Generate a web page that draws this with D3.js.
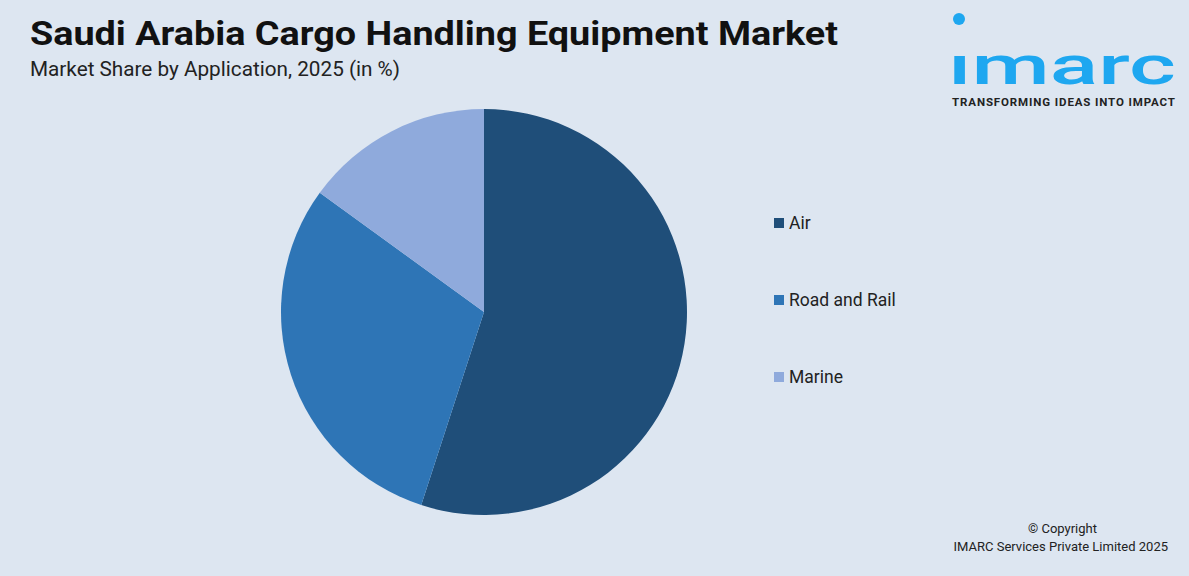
<!DOCTYPE html>
<html><head><meta charset="utf-8">
<script src="https://cdn.jsdelivr.net/npm/d3@7"></script>
<style>body{margin:0;background:#dde6f1;font-family:Roboto,"Open Sans",sans-serif}</style>
</head><body><svg id="chart" width="1189" height="576"></svg>
<script>
// data
var categories = ["Air", "Road and Rail", "Marine"];
var shares = [55, 30, 15];
var colors = ["#1f4e79", "#2e75b6", "#8faadc"];

var svg = d3.select("#chart");
svg.append("rect").attr("width", 1189).attr("height", 576).attr("fill", "#dde6f1");

svg.append("text").attr("x", 30).attr("y", 45).attr("font-size", 33).attr("font-weight", 700)
  .attr("fill", "#111").attr("textLength", 808).attr("lengthAdjust", "spacingAndGlyphs")
  .text("Saudi Arabia Cargo Handling Equipment Market");
svg.append("text").attr("x", 30).attr("y", 76).attr("font-size", 19.5).attr("fill", "#222")
  .attr("textLength", 370).attr("lengthAdjust", "spacingAndGlyphs")
  .text("Market Share by Application, 2025 (in %)");

// logo
svg.append("circle").attr("cx", 959).attr("cy", 19).attr("r", 6).attr("fill", "#1ea7f0");
svg.append("text").attr("x", 948).attr("y", 84).attr("font-size", 54).attr("font-weight", 500)
  .attr("fill", "#1ea7f0").attr("textLength", 228).attr("lengthAdjust", "spacingAndGlyphs").text("ımarc");
svg.append("text").attr("x", 952).attr("y", 106).attr("font-size", 11.5).attr("font-weight", 700)
  .attr("fill", "#222").attr("textLength", 223).text("TRANSFORMING IDEAS INTO IMPACT");

var pie = d3.pie().sort(null).value(d => d)(shares);
var arc = d3.arc().innerRadius(0).outerRadius(203);
svg.append("g").attr("transform", "translate(484,312)")
  .selectAll("path").data(pie).join("path")
  .attr("d", arc).attr("fill", (d, i) => colors[i]);

var leg = svg.append("g").selectAll("g").data(categories).join("g")
  .attr("transform", (d, i) => "translate(774," + (223 + i * 77) + ")");
leg.append("rect").attr("x", 0).attr("y", -5).attr("width", 10).attr("height", 10).attr("fill", (d, i) => colors[i]);
leg.append("text").attr("x", 15).attr("y", 6).attr("font-size", 17.5).attr("fill", "#222").text(d => d);

svg.append("text").attr("x", 1097).attr("y", 533).attr("text-anchor", "end").attr("font-size", 13)
  .attr("fill", "#222").text("© Copyright");
svg.append("text").attr("x", 1168).attr("y", 551).attr("text-anchor", "end").attr("font-size", 13)
  .attr("fill", "#222").text("IMARC Services Private Limited 2025");
</script></body></html>
